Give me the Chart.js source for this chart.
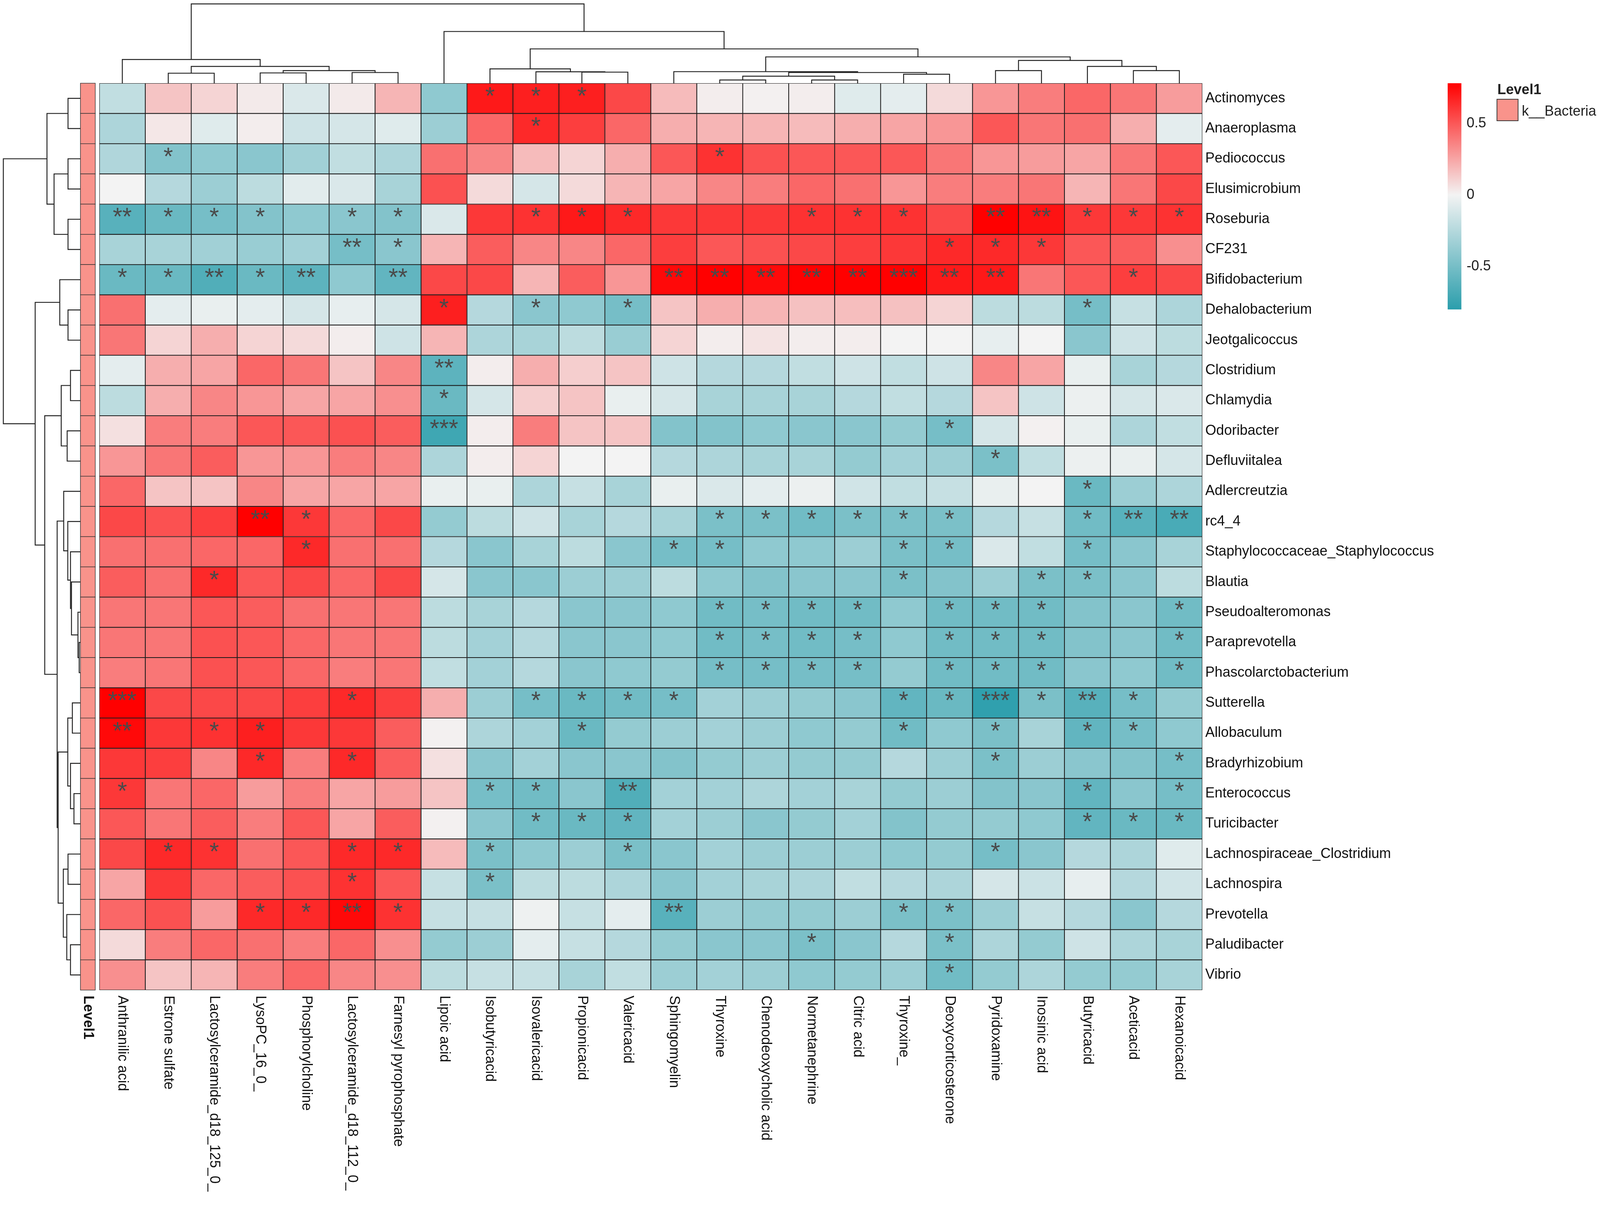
<!DOCTYPE html>
<html>
<head>
<meta charset="utf-8">
<title>Microbe / metabolite correlation heatmap</title>
<script src="https://cdn.jsdelivr.net/npm/chart.js@4.4.0/dist/chart.umd.min.js"></script>
<style>
  html, body { margin: 0; padding: 0; background: #fff; overflow: hidden; }
  #wrap { width: 100vw; height: 100vh; }
</style>
</head>
<body>
<div id="wrap"><canvas id="heat"></canvas></div>
<script>
// ---------- DATA ----------

const colNames = ['Anthranilic acid', 'Estrone sulfate', 'Lactosylceramide_d18_125_0_', 'LysoPC_16_0_',
  'Phosphorylcholine', 'Lactosylceramide_d18_112_0_', 'Farnesyl pyrophosphate', 'Lipoic acid',
  'Isobutyricacid', 'Isovalericacid', 'Propionicacid', 'Valericacid', 'Sphingomyelin', 'Thyroxine',
  'Chenodeoxycholic acid', 'Normetanephrine', 'Citric acid', 'Thyroxine_', 'Deoxycorticosterone',
  'Pyridoxamine', 'Inosinic acid', 'Butyricacid', 'Aceticacid', 'Hexanoicacid'];

const rowNames = ['Actinomyces', 'Anaeroplasma', 'Pediococcus', 'Elusimicrobium', 'Roseburia', 'CF231',
  'Bifidobacterium', 'Dehalobacterium', 'Jeotgalicoccus', 'Clostridium', 'Chlamydia', 'Odoribacter',
  'Defluviitalea', 'Adlercreutzia', 'rc4_4', 'Staphylococcaceae_Staphylococcus', 'Blautia',
  'Pseudoalteromonas', 'Paraprevotella', 'Phascolarctobacterium', 'Sutterella', 'Allobaculum',
  'Bradyrhizobium', 'Enterococcus', 'Turicibacter', 'Lachnospiraceae_Clostridium', 'Lachnospira',
  'Prevotella', 'Paludibacter', 'Vibrio'];

// correlation, one row per genus (column order as colNames)
const corr = [
  [-0.2, 0.15, 0.1, 0.03, -0.1, 0.03, 0.2, -0.4, 0.7, 0.68, 0.68, 0.55, 0.18, 0.02, 0.01, 0.02, -0.08, -0.06, 0.08, 0.3, 0.38, 0.45, 0.4, 0.28],
  [-0.28, 0.04, -0.08, 0.02, -0.15, -0.12, -0.08, -0.35, 0.45, 0.65, 0.58, 0.45, 0.22, 0.2, 0.2, 0.18, 0.22, 0.25, 0.3, 0.5, 0.4, 0.42, 0.22, -0.06],
  [-0.27, -0.45, -0.4, -0.42, -0.33, -0.2, -0.28, 0.42, 0.35, 0.18, 0.1, 0.22, 0.5, 0.62, 0.52, 0.5, 0.5, 0.5, 0.4, 0.3, 0.28, 0.25, 0.4, 0.5],
  [0.0, -0.25, -0.35, -0.22, -0.07, -0.1, -0.3, 0.52, 0.08, -0.12, 0.08, 0.2, 0.25, 0.35, 0.38, 0.45, 0.42, 0.3, 0.38, 0.38, 0.4, 0.2, 0.4, 0.55],
  [-0.62, -0.55, -0.5, -0.45, -0.4, -0.42, -0.45, -0.1, 0.6, 0.62, 0.7, 0.65, 0.6, 0.6, 0.6, 0.62, 0.62, 0.62, 0.55, 0.78, 0.72, 0.6, 0.6, 0.62],
  [-0.3, -0.3, -0.33, -0.36, -0.32, -0.5, -0.42, 0.2, 0.48, 0.35, 0.35, 0.45, 0.58, 0.5, 0.52, 0.55, 0.58, 0.6, 0.65, 0.65, 0.6, 0.5, 0.48, 0.32],
  [-0.55, -0.55, -0.65, -0.55, -0.6, -0.4, -0.58, 0.55, 0.55, 0.2, 0.48, 0.3, 0.75, 0.78, 0.75, 0.8, 0.78, 0.8, 0.7, 0.7, 0.4, 0.5, 0.58, 0.55],
  [0.42, -0.06, -0.04, -0.06, -0.12, -0.05, -0.12, 0.68, -0.25, -0.42, -0.4, -0.5, 0.15, 0.22, 0.2, 0.16, 0.17, 0.16, 0.1, -0.22, -0.22, -0.5, -0.18, -0.28],
  [0.4, 0.1, 0.22, 0.1, 0.08, 0.02, -0.15, 0.2, -0.28, -0.3, -0.22, -0.36, 0.1, 0.02, 0.05, 0.02, 0.02, 0.0, 0.0, -0.05, 0.0, -0.42, -0.15, -0.22],
  [-0.06, 0.22, 0.25, 0.45, 0.4, 0.15, 0.35, -0.6, 0.02, 0.22, 0.12, 0.15, -0.15, -0.25, -0.25, -0.2, -0.15, -0.2, -0.15, 0.35, 0.25, -0.04, -0.3, -0.25],
  [-0.22, 0.22, 0.35, 0.3, 0.25, 0.25, 0.32, -0.55, -0.12, 0.12, 0.15, -0.04, -0.12, -0.3, -0.3, -0.3, -0.25, -0.2, -0.25, 0.15, -0.15, -0.03, -0.12, -0.1],
  [0.06, 0.38, 0.38, 0.5, 0.5, 0.52, 0.48, -0.72, 0.02, 0.38, 0.15, 0.15, -0.45, -0.45, -0.4, -0.42, -0.42, -0.38, -0.5, -0.12, 0.01, -0.04, -0.28, -0.2],
  [0.3, 0.4, 0.48, 0.3, 0.3, 0.38, 0.35, -0.28, 0.02, 0.1, 0.0, 0.0, -0.25, -0.28, -0.3, -0.3, -0.38, -0.32, -0.35, -0.48, -0.2, -0.03, -0.04, -0.12],
  [0.45, 0.15, 0.15, 0.35, 0.25, 0.25, 0.25, -0.04, -0.04, -0.28, -0.18, -0.3, -0.04, -0.1, -0.06, -0.03, -0.14, -0.2, -0.18, -0.04, 0.0, -0.55, -0.35, -0.28],
  [0.55, 0.52, 0.58, 0.78, 0.6, 0.45, 0.55, -0.38, -0.22, -0.15, -0.3, -0.25, -0.3, -0.48, -0.48, -0.52, -0.48, -0.48, -0.48, -0.25, -0.18, -0.52, -0.62, -0.68],
  [0.42, 0.42, 0.45, 0.45, 0.65, 0.42, 0.42, -0.25, -0.42, -0.3, -0.22, -0.42, -0.5, -0.5, -0.4, -0.4, -0.35, -0.48, -0.5, -0.1, -0.2, -0.5, -0.42, -0.3],
  [0.48, 0.42, 0.65, 0.5, 0.55, 0.45, 0.55, -0.12, -0.42, -0.42, -0.35, -0.35, -0.22, -0.4, -0.45, -0.42, -0.42, -0.48, -0.45, -0.35, -0.48, -0.48, -0.42, -0.22],
  [0.4, 0.4, 0.5, 0.48, 0.42, 0.4, 0.4, -0.22, -0.3, -0.25, -0.42, -0.42, -0.4, -0.52, -0.5, -0.52, -0.52, -0.4, -0.52, -0.52, -0.52, -0.45, -0.42, -0.52],
  [0.4, 0.4, 0.52, 0.5, 0.45, 0.4, 0.4, -0.22, -0.32, -0.25, -0.42, -0.42, -0.4, -0.52, -0.5, -0.52, -0.5, -0.4, -0.52, -0.52, -0.52, -0.45, -0.42, -0.52],
  [0.38, 0.4, 0.52, 0.5, 0.45, 0.38, 0.4, -0.2, -0.32, -0.25, -0.42, -0.4, -0.38, -0.5, -0.5, -0.5, -0.5, -0.38, -0.52, -0.52, -0.52, -0.42, -0.4, -0.52],
  [0.8, 0.55, 0.55, 0.55, 0.58, 0.65, 0.58, 0.22, -0.35, -0.5, -0.55, -0.52, -0.5, -0.32, -0.35, -0.38, -0.42, -0.58, -0.55, -0.78, -0.48, -0.62, -0.5, -0.38],
  [0.75, 0.6, 0.62, 0.68, 0.6, 0.6, 0.48, 0.01, -0.28, -0.32, -0.55, -0.38, -0.35, -0.32, -0.35, -0.4, -0.38, -0.52, -0.4, -0.48, -0.3, -0.58, -0.5, -0.4],
  [0.6, 0.58, 0.35, 0.65, 0.38, 0.65, 0.48, 0.06, -0.42, -0.32, -0.42, -0.42, -0.45, -0.38, -0.35, -0.38, -0.38, -0.25, -0.35, -0.48, -0.35, -0.42, -0.45, -0.5],
  [0.6, 0.4, 0.45, 0.28, 0.38, 0.25, 0.28, 0.15, -0.5, -0.52, -0.42, -0.65, -0.32, -0.32, -0.28, -0.32, -0.3, -0.38, -0.35, -0.45, -0.42, -0.58, -0.42, -0.5],
  [0.5, 0.4, 0.48, 0.38, 0.5, 0.25, 0.48, 0.01, -0.42, -0.52, -0.55, -0.58, -0.32, -0.35, -0.42, -0.38, -0.32, -0.45, -0.38, -0.38, -0.4, -0.58, -0.55, -0.55],
  [0.55, 0.65, 0.62, 0.42, 0.5, 0.65, 0.65, 0.18, -0.48, -0.4, -0.35, -0.48, -0.42, -0.32, -0.35, -0.35, -0.35, -0.4, -0.38, -0.5, -0.42, -0.25, -0.28, -0.08],
  [0.25, 0.6, 0.45, 0.48, 0.52, 0.62, 0.5, -0.18, -0.48, -0.22, -0.22, -0.28, -0.42, -0.32, -0.3, -0.28, -0.2, -0.25, -0.28, -0.12, -0.16, -0.05, -0.25, -0.14],
  [0.45, 0.52, 0.28, 0.65, 0.65, 0.75, 0.62, -0.18, -0.18, -0.02, -0.18, -0.06, -0.62, -0.35, -0.38, -0.38, -0.35, -0.48, -0.48, -0.35, -0.18, -0.25, -0.42, -0.25],
  [0.08, 0.38, 0.45, 0.42, 0.38, 0.45, 0.32, -0.38, -0.35, -0.06, -0.18, -0.25, -0.38, -0.42, -0.42, -0.48, -0.42, -0.25, -0.48, -0.28, -0.38, -0.15, -0.28, -0.3],
  [0.32, 0.15, 0.2, 0.38, 0.45, 0.35, 0.32, -0.22, -0.18, -0.18, -0.3, -0.2, -0.35, -0.32, -0.35, -0.4, -0.38, -0.35, -0.52, -0.38, -0.28, -0.38, -0.38, -0.3]
];

// number of significance stars per cell (one digit per column)
const stars = [
  '000000001110000000000000', '000000000100000000000000', '010000000000010000000000',
  '000000000000000000000000', '211101100111000111022111', '000002100000000000111000',
  '112120200000222223220010', '000000010101000000000100', '000000000000000000000000',
  '000000020000000000000000', '000000010000000000000000', '000000030000000000100000',
  '000000000000000000010000', '000000000000000000000100', '000210000000011111100122',
  '000010000000110001100100', '001000000000000001001100', '000000000000011110111001',
  '000000000000011110111001', '000000000000011110111001', '300001000111100001131210',
  '201100000010000001010110', '000101000000000000010001', '100000001102000000000101',
  '000000000111000000000111', '011001101001000000010000', '000001001000000000000000',
  '000112100000200001100000', '000000000000000100100000', '000000000000000000100000'
];

// dendrograms: [childA, childB, height]; ids >= leaf count refer to earlier merges
const colTree = [
  [13, 14, 0.041], [15, 16, 0.041], [24, 25, 0.089], [17, 18, 0.113], [1, 2, 0.126],
  [3, 4, 0.130], [5, 6, 0.135], [26, 27, 0.135], [10, 11, 0.140], [9, 32, 0.144],
  [12, 31, 0.146], [29, 30, 0.159], [19, 20, 0.159], [22, 23, 0.159], [8, 33, 0.181],
  [28, 35, 0.212], [21, 37, 0.212], [36, 40, 0.287], [0, 39, 0.299], [34, 41, 0.332],
  [38, 43, 0.433], [7, 44, 0.652], [42, 45, 1.0]
];
const rowTree = [
  [18, 19, 0.016], [17, 30, 0.032], [23, 24, 0.084], [20, 21, 0.105], [16, 31, 0.116],
  [15, 34, 0.129], [9, 10, 0.129], [28, 29, 0.129], [22, 32, 0.129], [0, 1, 0.161],
  [2, 3, 0.161], [4, 5, 0.161], [7, 8, 0.161], [25, 26, 0.161], [14, 35, 0.164],
  [33, 38, 0.164], [11, 12, 0.172], [27, 37, 0.177], [13, 44, 0.217], [43, 47, 0.222],
  [36, 46, 0.249], [6, 42, 0.268], [45, 49, 0.289], [48, 52, 0.302], [40, 41, 0.342],
  [39, 54, 0.434], [50, 53, 0.463], [51, 56, 0.587], [55, 57, 1.0]
];

const legendTicks = [0.5, 0, -0.5];
const corrMin = -0.8, corrMax = 0.78;
const groupTitle = 'Level1';
const groupName = 'k__Bacteria';

// ---------- LAYOUT (designed on a 4317 x 3102 page, scaled to the viewport) ----------

const sx = window.innerWidth / 4317, sy = window.innerHeight / 3102;
const sf = Math.min(sx, sy);
const X = v => v * sx, Y = v => v * sy, F = v => Math.round(v * sf * 10) / 10;

// ---------- COLOURS ----------

const FONT = "'Liberation Sans', Arial, sans-serif";
const lowCol = [43, 158, 172], midCol = [243, 243, 243], highCol = [255, 0, 0];
const groupCol = '#f9938b';

function corrColor(v) {
  const t = v >= 0 ? Math.min(v / corrMax, 1) : Math.min(v / corrMin, 1);
  const end = v >= 0 ? highCol : lowCol;
  const c = midCol.map((m, i) => Math.round(m + (end[i] - m) * t));
  return 'rgb(' + c.join(',') + ')';
}

// ---------- PLUGINS ----------

const whiteBg = {
  id: 'whiteBg',
  beforeDraw(chart) {
    const ctx = chart.ctx;
    ctx.save();
    ctx.fillStyle = '#fff';
    ctx.fillRect(0, 0, chart.width, chart.height);
    ctx.restore();
  }
};

function drawTree(ctx, merges, nLeaves, leafPos, toXY) {
  const pos = [], hgt = [];
  for (let i = 0; i < nLeaves; i++) { pos.push(leafPos(i)); hgt.push(0); }
  merges.forEach(([a, b, h]) => { pos.push((pos[a] + pos[b]) / 2); hgt.push(h); });
  ctx.beginPath();
  merges.forEach(([a, b, h]) => {
    const p = [toXY(pos[a], hgt[a]), toXY(pos[a], h), toXY(pos[b], h), toXY(pos[b], hgt[b])];
    ctx.moveTo(p[0][0], p[0][1]);
    for (let k = 1; k < 4; k++) ctx.lineTo(p[k][0], p[k][1]);
  });
  ctx.stroke();
}

const decorations = {
  id: 'decorations',
  afterDatasetsDraw(chart) {
    const ctx = chart.ctx;
    const x = chart.scales.x, y = chart.scales.y;

    // significance stars
    ctx.save();
    ctx.fillStyle = '#4a4a4a';
    ctx.font = F(66) + 'px ' + FONT;
    ctx.textAlign = 'center';
    ctx.textBaseline = 'middle';
    stars.forEach((s, r) => {
      for (let c = 0; c < s.length; c++) {
        const n = +s[c];
        if (n) ctx.fillText('*'.repeat(n), x.getPixelForValue(c), y.getPixelForValue(r + 0.5) - Y(3));
      }
    });
    ctx.restore();
  },
  afterDraw(chart) {
    const ctx = chart.ctx, area = chart.chartArea;
    const x = chart.scales.x, y = chart.scales.y;
    const annoW = X(40), annoRight = area.left - X(11), annoLeft = annoRight - annoW;

    ctx.save();
    // annotation column
    for (let r = 0; r < rowNames.length; r++) {
      const t = y.getPixelForValue(r), b = y.getPixelForValue(r + 1);
      ctx.fillStyle = groupCol;
      ctx.fillRect(annoLeft, t, annoW, b - t);
      ctx.strokeStyle = '#333';
      ctx.lineWidth = F(1.5);
      ctx.strokeRect(annoLeft, t, annoW, b - t);
    }

    // dendrograms
    ctx.strokeStyle = '#222';
    ctx.lineWidth = F(2.5);
    drawTree(ctx, colTree, colNames.length, i => x.getPixelForValue(i),
      (p, h) => [p, area.top - h * Y(203)]);
    drawTree(ctx, rowTree, rowNames.length, i => y.getPixelForValue(i + 0.5),
      (p, h) => [annoLeft - h * X(208), p]);

    // column labels, reading downwards
    ctx.fillStyle = '#111';
    ctx.textAlign = 'left';
    ctx.textBaseline = 'middle';
    const labelTop = area.bottom + Y(14);
    colNames.forEach((name, c) => {
      ctx.save();
      ctx.translate(x.getPixelForValue(c), labelTop);
      ctx.rotate(Math.PI / 2);
      ctx.font = F(38) + 'px ' + FONT;
      ctx.fillText(name, 0, 0);
      ctx.restore();
    });
    ctx.save();
    ctx.translate((annoLeft + annoRight) / 2, labelTop);
    ctx.rotate(Math.PI / 2);
    ctx.font = 'bold ' + F(38) + 'px ' + FONT;
    ctx.fillText(groupTitle, 0, 0);
    ctx.restore();

    // colour bar
    const barX = X(3906), barW = X(37), barTop = area.top, barBot = Y(792);
    const valToY = v => barTop + (corrMax - v) / (corrMax - corrMin) * (barBot - barTop);
    const grad = ctx.createLinearGradient(0, barTop, 0, barBot);
    grad.addColorStop(0, corrColor(corrMax));
    grad.addColorStop(corrMax / (corrMax - corrMin), corrColor(0));
    grad.addColorStop(1, corrColor(corrMin));
    ctx.fillStyle = grad;
    ctx.fillRect(barX, barTop, barW, barBot - barTop);
    ctx.fillStyle = '#222';
    ctx.font = F(38) + 'px ' + FONT;
    ctx.textBaseline = 'middle';
    legendTicks.forEach(v => ctx.fillText(String(v), barX + barW + X(14), valToY(v)));

    // annotation legend
    ctx.textBaseline = 'alphabetic';
    ctx.font = 'bold ' + F(38) + 'px ' + FONT;
    ctx.fillText(groupTitle, X(4040), Y(241));
    ctx.fillStyle = groupCol;
    ctx.fillRect(X(4039), Y(254), X(57), Y(55));
    ctx.strokeStyle = '#333';
    ctx.lineWidth = F(2);
    ctx.strokeRect(X(4039), Y(254), X(57), Y(55));
    ctx.fillStyle = '#222';
    ctx.font = F(38) + 'px ' + FONT;
    ctx.fillText(groupName, X(4106), Y(296));
    ctx.restore();
  }
};

// ---------- CHART ----------

const datasets = rowNames.map((name, r) => ({
  label: name,
  data: corr[r].map(() => [r, r + 1]),
  backgroundColor: corr[r].map(corrColor),
  borderColor: '#1c1c1c',
  borderWidth: F(1.5),
  borderSkipped: false,
  barPercentage: 1,
  categoryPercentage: 1,
  grouped: false
}));

const heat = new Chart(document.getElementById('heat'), {
  type: 'bar',
  data: { labels: colNames, datasets: datasets },
  options: {
    responsive: true,
    maintainAspectRatio: false,
    animation: false,
    layout: { padding: { left: X(268), top: Y(213), right: X(373), bottom: Y(568) } },
    plugins: {
      legend: { display: false },
      tooltip: { enabled: false }
    },
    scales: {
      x: {
        type: 'category',
        display: false,
        grid: { display: false }
      },
      y: {
        type: 'linear',
        position: 'right',
        min: 0,
        max: rowNames.length,
        reverse: true,
        grid: { display: false, drawTicks: false },
        border: { display: false },
        afterBuildTicks: axis => { axis.ticks = rowNames.map((n, i) => ({ value: i + 0.5 })); },
        afterFit: axis => { axis.width = X(700); },
        ticks: {
          autoSkip: false,
          padding: X(8),
          color: '#111',
          font: { family: FONT, size: F(38) },
          callback: (v, i) => rowNames[i]
        }
      }
    }
  },
  plugins: [whiteBg, decorations]
});
</script>
</body>
</html>
